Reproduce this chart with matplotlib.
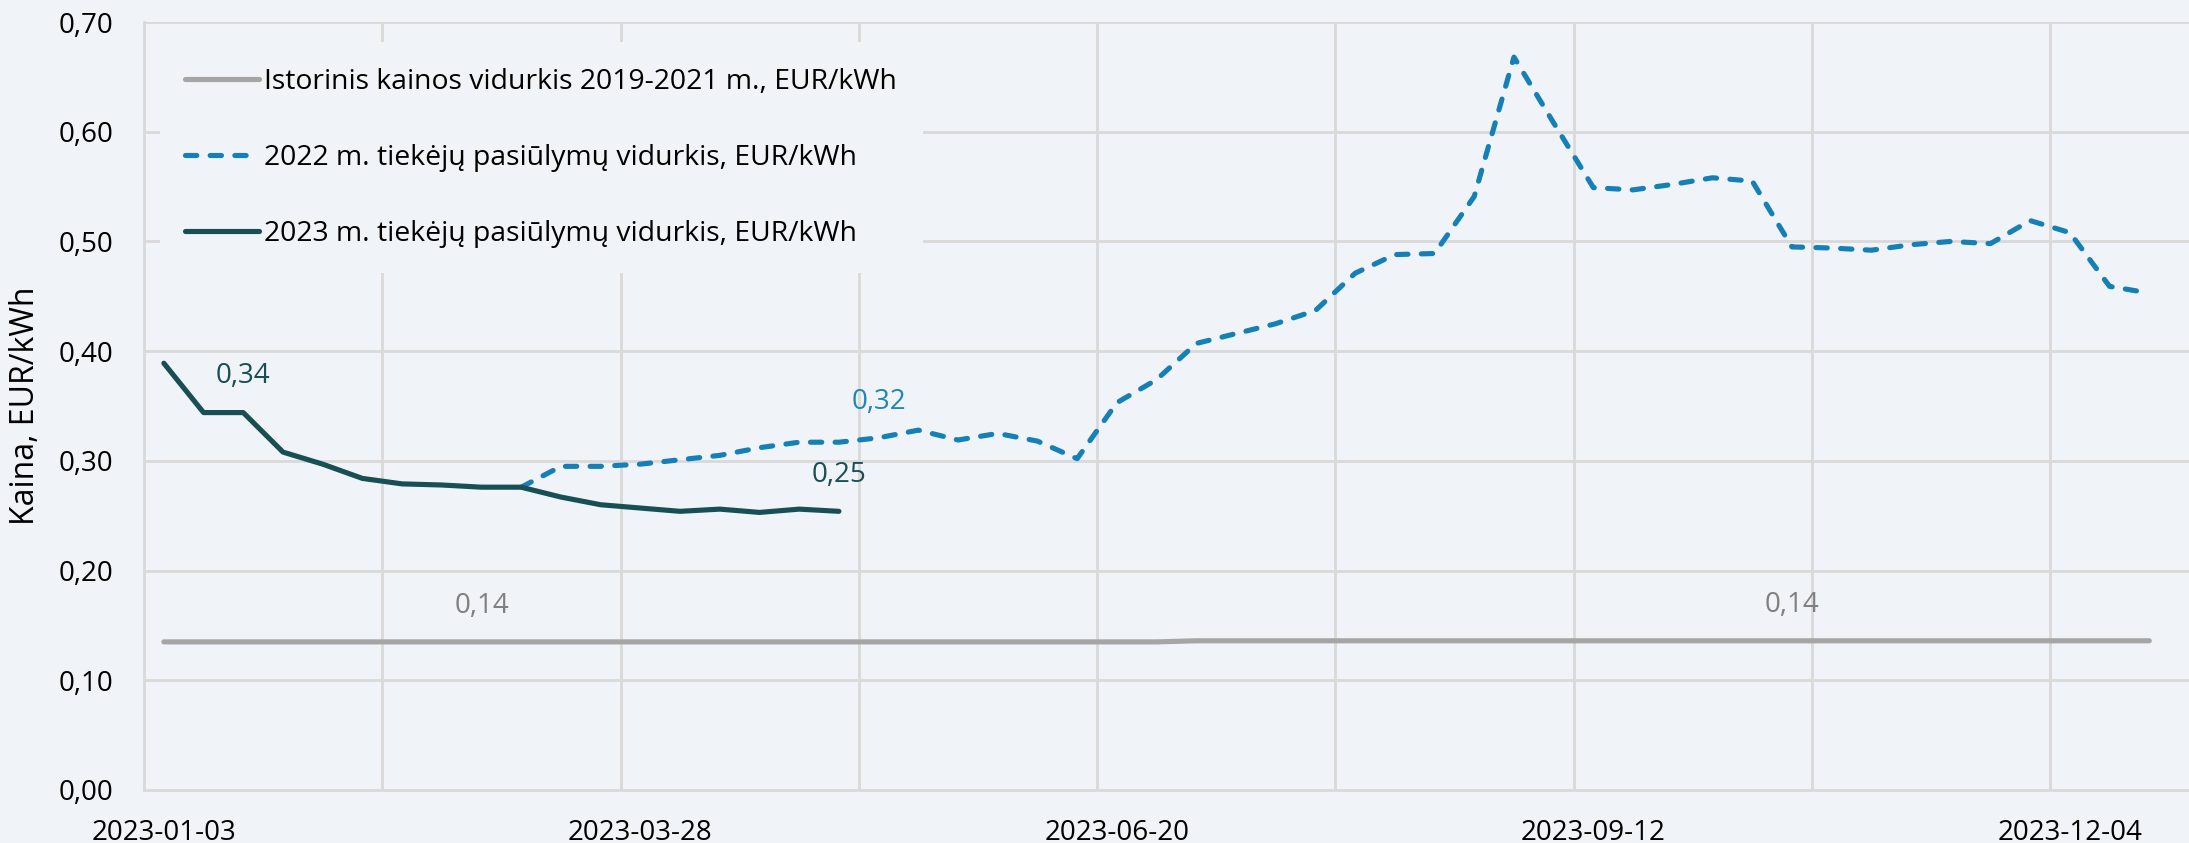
import matplotlib
matplotlib.use("Agg")
import matplotlib.pyplot as plt
from matplotlib.lines import Line2D

# ---------------- data ----------------
week_index = list(range(51))
tick_positions = [0, 12, 24, 36, 48]
tick_labels = ["2023-01-03", "2023-03-28", "2023-06-20", "2023-09-12", "2023-12-04"]

historic = [0.135] * 26 + [0.136] * 25

offers_2022_start = 9
offers_2022 = [0.276, 0.295, 0.295, 0.297, 0.301, 0.305, 0.312, 0.317, 0.317, 0.321,
               0.328, 0.319, 0.325, 0.318, 0.302, 0.353, 0.374, 0.407, 0.416, 0.425,
               0.437, 0.471, 0.488, 0.489, 0.541, 0.668, 0.608, 0.549, 0.547, 0.552,
               0.558, 0.555, 0.495, 0.494, 0.492, 0.497, 0.500, 0.498, 0.519, 0.508,
               0.459, 0.453]

offers_2023 = [0.389, 0.344, 0.344, 0.308, 0.297, 0.284, 0.279, 0.278, 0.276, 0.276,
               0.267, 0.260, 0.257, 0.254, 0.256, 0.253, 0.256, 0.254]

labels_legend = ["Istorinis kainos vidurkis 2019-2021 m., EUR/kWh",
                 "2022 m. tiekėjų pasiūlymų vidurkis, EUR/kWh",
                 "2023 m. tiekėjų pasiūlymų vidurkis, EUR/kWh"]

# ---------------- style ----------------
BG = "#F0F3F7"
GRID = "#D9D9D9"
C_GRAY = "#A5A5A5"
C_BLUE = "#1580B5"
C_DARK = "#174F55"
FONT = "Open Sans"
FS = 20

plt.rcParams["font.family"] = [FONT, "DejaVu Sans"]

fig = plt.figure(figsize=(21.89, 8.43), dpi=100)
fig.patch.set_facecolor(BG)
ax = fig.add_axes([144 / 2189, 1 - 790 / 843, 1 - 144 / 2189, (790 - 22) / 843])
ax.set_facecolor(BG)

x22 = week_index[offers_2022_start:offers_2022_start + len(offers_2022)]
x23 = week_index[:len(offers_2023)]

LW = 3.7
ax.plot(week_index, historic, color=C_GRAY, lw=LW, solid_capstyle="round", zorder=3)
ax.plot(x22, offers_2022, color=C_BLUE, lw=LW, linestyle=(0, (2.2, 2.6)),
        dash_capstyle="round", solid_joinstyle="round", zorder=4)
ax.plot(x23, offers_2023, color=C_DARK, lw=LW, solid_capstyle="round",
        solid_joinstyle="round", zorder=5)

# axes limits / grid
ax.set_xlim(-0.5, 51.0)
ax.set_ylim(0, 0.70)
ax.set_yticks([i / 10 for i in range(8)])
ax.set_yticklabels([f"{i/10:.2f}".replace(".", ",") for i in range(8)])
ax.set_xticks(tick_positions)
ax.set_xticklabels(tick_labels)
ax.grid(False)
for yv in [i / 10 for i in range(1, 8)]:
    ax.axhline(yv, color=GRID, lw=2.0, zorder=1)
for xb in [b - 0.5 for b in range(6, 52, 6)]:
    ax.axvline(xb, color=GRID, lw=2.0, zorder=1)

for s in ["top", "right"]:
    ax.spines[s].set_visible(False)
for s in ["left", "bottom"]:
    ax.spines[s].set_color(GRID)
    ax.spines[s].set_linewidth(2.0)
ax.tick_params(axis="both", which="both", length=0, labelsize=FS, colors="black")
ax.tick_params(axis="y", pad=22)
ax.tick_params(axis="x", pad=21)

ax.set_ylabel("Kaina, EUR/kWh", fontsize=23)
ax.yaxis.set_label_coords(-0.050, 0.5)

# data labels
def dlabel(xv, yv, color):
    ax.annotate(f"{yv:.2f}".replace(".", ","), xy=(xv, yv), xytext=(0, 26),
                textcoords="offset points", ha="center", va="center",
                fontsize=FS, color=color, zorder=6)

dlabel(x23[2], offers_2023[2], C_DARK)
dlabel(x23[17], offers_2023[17], C_DARK)
dlabel(x22[18 - offers_2022_start], offers_2022[18 - offers_2022_start], "#1F86B8")
dlabel(week_index[8], historic[8], "#7F7F7F")
dlabel(week_index[41], historic[41], "#7F7F7F")

# legend
handles = [Line2D([], [], color=C_GRAY, lw=LW, solid_capstyle="round"),
           Line2D([], [], color=C_BLUE, lw=LW, linestyle=(0, (2.2, 2.6)), dash_capstyle="round"),
           Line2D([], [], color=C_DARK, lw=LW, solid_capstyle="round")]
leg = ax.legend(handles, labels_legend, loc="upper left",
                bbox_to_anchor=(0.0035, 0.985), fontsize=20.4, frameon=True,
                facecolor=BG, edgecolor=BG, framealpha=1.0,
                handlelength=2.6, handletextpad=0.2, labelspacing=1.7,
                borderpad=0.9, borderaxespad=0.3)
leg.set_zorder(10)
leg.get_frame().set_linewidth(0)

fig.savefig("out.png", dpi=100, facecolor=BG)
